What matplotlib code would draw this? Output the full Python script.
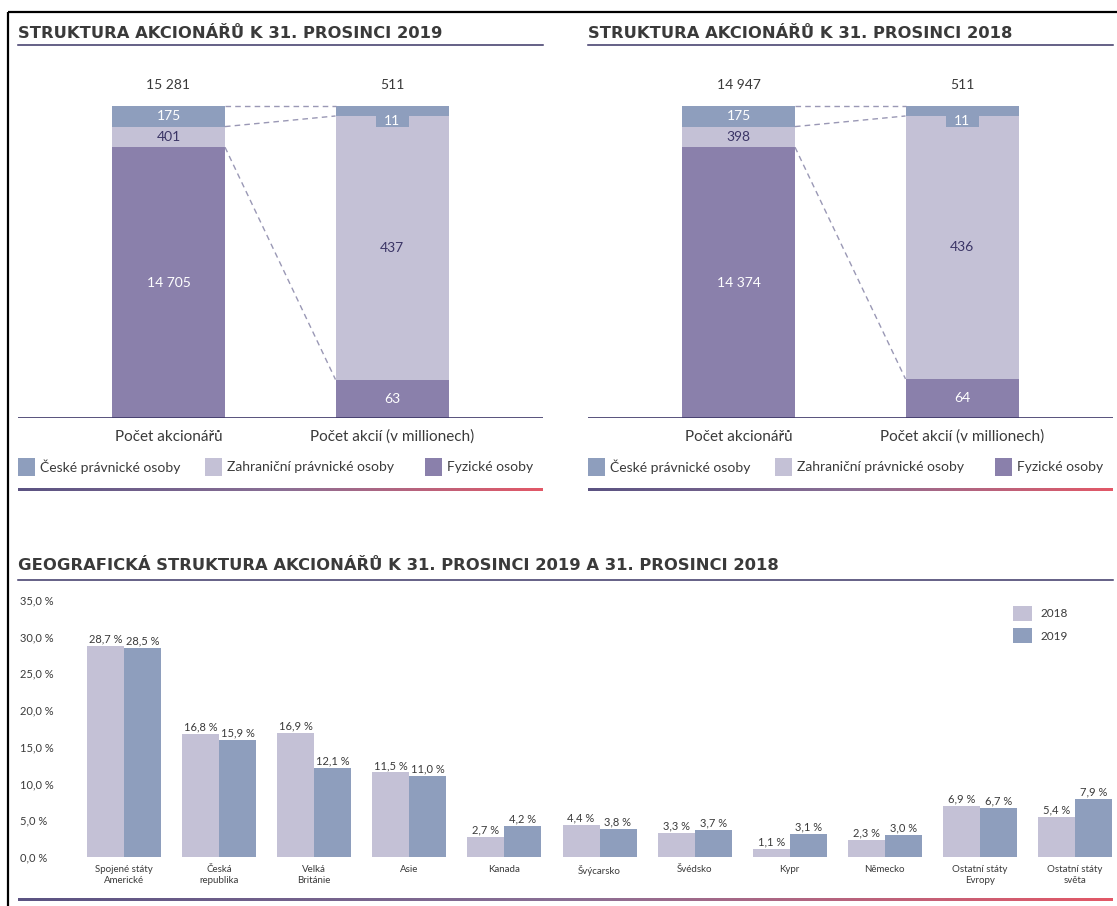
import numpy as np
import matplotlib
matplotlib.use("Agg")
import matplotlib.pyplot as plt
from matplotlib.colors import LinearSegmentedColormap
from matplotlib.patches import Rectangle

plt.rcParams['font.family'] = ['Lato', 'DejaVu Sans']

W, H = 1117, 906

BLUE = '#8e9ebd'
LILAC = '#c4c1d6'
PURPLE = '#8a80ab'
TEXT = '#3a3a3a'
NAVY = '#3b3566'
DASH = '#9a98b5'
line_cmap = LinearSegmentedColormap.from_list('line', ['#5b5382', '#8a6f95', '#e25867'])
TITLE_FONT = ['DejaVu Sans']

# data
segment_names = ["České právnické osoby", "Zahraniční právnické osoby", "Fyzické osoby"]
bar_names = ["Počet akcionářů", "Počet akcií (v millionech)"]
holders_2019 = [175, 401, 14705]
shares_2019 = [11, 437, 63]
holders_2018 = [175, 398, 14374]
shares_2018 = [11, 436, 64]

countries = ["Spojené státy\nAmerické", "Česká\nrepublika", "Velká\nBritánie", "Asie", "Kanada",
             "Švýcarsko", "Švédsko", "Kypr", "Německo", "Ostatní státy\nEvropy", "Ostatní státy\nsvěta"]
pct_2018 = [28.7, 16.8, 16.9, 11.5, 2.7, 4.4, 3.3, 1.1, 2.3, 6.9, 5.4]
pct_2019 = [28.5, 15.9, 12.1, 11.0, 4.2, 3.8, 3.7, 3.1, 3.0, 6.7, 7.9]
pct_ticks = [0, 5, 10, 15, 20, 25, 30, 35]


def fmt_num(v):
    return f"{v:,}".replace(",", " ")


def fmt_pct(v):
    return f"{v:.1f} %".replace(".", ",")


def display_fracs(vals, min_frac):
    # small segments get a minimum visible height, the biggest one gives way
    f = np.array(vals, dtype=float) / sum(vals)
    f = np.maximum(f, min_frac)
    f[np.argmax(f)] -= f.sum() - 1
    return f


fig = plt.figure(figsize=(W / 100, H / 100), dpi=100)


def px_axes(x0, y0, x1, y1):
    return fig.add_axes([x0 / W, 1 - y1 / H, (x1 - x0) / W, (y1 - y0) / H])


bg = px_axes(0, 0, W, H)
bg.axis('off')


def gradient_line(x0, x1, y):
    grad = np.linspace(0, 1, 256).reshape(1, -1)
    bg.imshow(grad, cmap=line_cmap, extent=[x0, x1, y + 1.2, y - 1.2], aspect='auto',
              interpolation='bilinear')


# frame
bg.plot([8, W], [12, 12], color='black', lw=1.6, solid_capstyle='butt')
bg.plot([8, 8], [12, H], color='black', lw=1.6, solid_capstyle='butt')

seg_colors = [BLUE, LILAC, PURPLE]
seg_text = ['white', NAVY, 'white']


def structure_panel(x0, title, holders, shares):
    bg.text(x0, 33, title, fontsize=11.8, fontweight='bold', family=TITLE_FONT, color=TEXT,
            ha='left', va='center')
    bg.plot([x0, x0 + 525], [45, 45], color=NAVY, lw=1.1)

    ax = px_axes(x0, 60, x0 + 525, 418)
    unit = 223.5
    ax.set_xlim(-150.5 / unit, 1 + 151 / unit)
    ax.set_ylim(0, 358 / 312)
    ax.axis('off')
    ax.axhline(0, color=NAVY, lw=1.2)
    w = 113 / unit

    fracs = []
    for xi, vals, min_frac in [(0, holders, 0.066), (1, shares, 0.032)]:
        fr = display_fracs(vals, min_frac)
        fracs.append(fr)
        bottom = 0
        for k in [2, 1, 0]:
            ax.bar(xi, fr[k], w, bottom=bottom, color=seg_colors[k], linewidth=0)
            if not (xi == 1 and k == 0):
                ax.text(xi, bottom + fr[k] / 2, fmt_num(vals[k]), ha='center', va='center',
                        fontsize=10, color=seg_text[k])
            bottom += fr[k]
        ax.text(xi, 1 + 21 / 312, fmt_num(sum(vals)), ha='center', va='center',
                fontsize=10, color=TEXT)
        ax.text(xi, -19 / 312, bar_names[xi], ha='center', va='center', fontsize=11, color=TEXT)

    # notch label for the thin top segment of the share bar
    box_h = 11 / 312
    box_w = 33 / unit
    top_r = 1 - fracs[1][0]
    ax.add_patch(Rectangle((1 - box_w / 2, top_r - box_h), box_w, box_h, color=BLUE, lw=0))
    ax.text(1, top_r - box_h / 2, fmt_num(shares[0]), ha='center', va='center',
            fontsize=10, color='white')

    # dashed links between matching segment boundaries
    fl, fr_ = fracs
    for yl, yr in [(1, 1), (1 - fl[0], 1 - fr_[0]), (fl[2], fr_[2])]:
        ax.plot([w / 2, 1 - w / 2], [yl, yr], color=DASH, lw=1, ls=(0, (4, 3)))

    # legend
    for off, name, col in zip([0, 187, 407], segment_names, seg_colors):
        bg.add_patch(Rectangle((x0 + off, 458), 17, 18, color=col, lw=0))
        bg.text(x0 + off + 22, 467, name, fontsize=10, color=TEXT, ha='left', va='center')

    gradient_line(x0, x0 + 525, 490)


structure_panel(18, "STRUKTURA AKCIONÁŘŮ K 31. PROSINCI 2019", holders_2019, shares_2019)
structure_panel(588, "STRUKTURA AKCIONÁŘŮ K 31. PROSINCI 2018", holders_2018, shares_2018)

# geographic chart
bg.text(18, 566, "GEOGRAFICKÁ STRUKTURA AKCIONÁŘŮ K 31. PROSINCI 2019 A 31. PROSINCI 2018",
        fontsize=11.8, fontweight='bold', family=TITLE_FONT, color=TEXT, ha='left', va='center')
bg.plot([18, 1113], [580, 580], color=NAVY, lw=1.1)

ax2 = px_axes(70, 590, 1113, 857)
unit = 95.1
ax2.set_xlim(-(124 - 70) / unit, (1113 - 124) / unit)
ax2.set_ylim(0, (857 - 590) / 7.35)
x = np.arange(len(countries))
bw = 37 / unit
b1 = ax2.bar(x - bw / 2, pct_2018, bw, color=LILAC, label='2018', linewidth=0)
b2 = ax2.bar(x + bw / 2, pct_2019, bw, color=BLUE, label='2019', linewidth=0)
ax2.bar_label(b1, labels=[fmt_pct(v) for v in pct_2018], padding=1, fontsize=8, color=TEXT)
ax2.bar_label(b2, labels=[fmt_pct(v) for v in pct_2019], padding=1, fontsize=8, color=TEXT)
for s in ax2.spines.values():
    s.set_visible(False)
ax2.patch.set_visible(False)
ax2.set_yticks(pct_ticks, [fmt_pct(v) for v in pct_ticks])
ax2.tick_params(axis='y', length=0, pad=36, labelsize=8, labelcolor=TEXT)
for lbl in ax2.get_yticklabels():
    lbl.set_horizontalalignment('left')
    lbl.set_y(lbl.get_position()[1])
ax2.set_xticks(x, countries)
ax2.tick_params(axis='x', length=0, pad=6, labelsize=7, labelcolor=TEXT)
fig.legend(handles=[b1, b2], loc='upper left', bbox_to_anchor=(1013 / W, 1 - 606 / H),
           frameon=False, fontsize=8.5, handlelength=1.6, handleheight=1.6,
           labelspacing=0.6, handletextpad=0.7, borderpad=0, borderaxespad=0,
           labelcolor=TEXT)

gradient_line(18, 1113, 900)

bg.set_xlim(0, W)
bg.set_ylim(H, 0)

fig.savefig('out.png', dpi=100, facecolor='white')
